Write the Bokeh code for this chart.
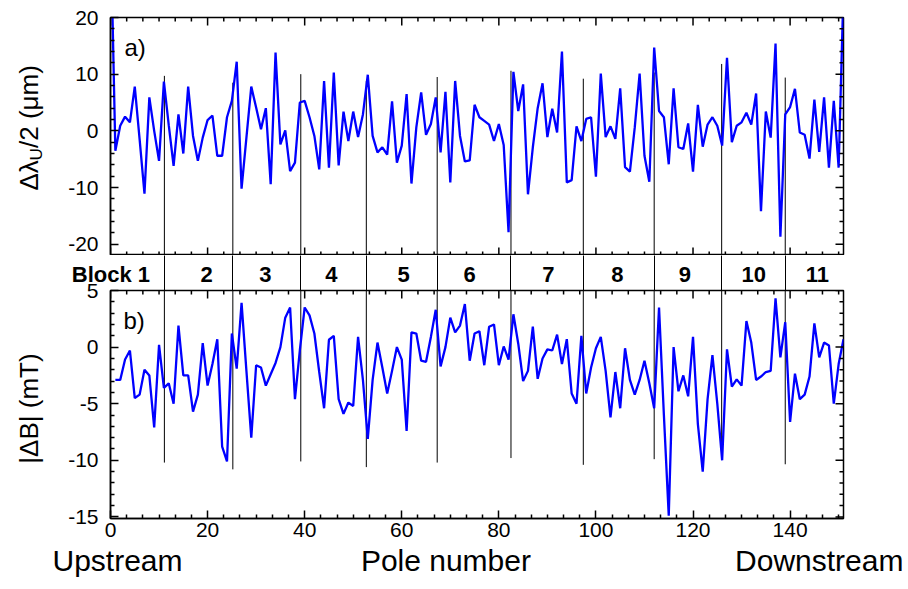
import math
from bokeh.plotting import figure
from bokeh.layouts import column, row
from bokeh.models import Range1d, LinearAxis, FixedTicker, Label
from bokeh.embed import file_html
from bokeh.resources import INLINE

# ---------------- data ----------------
pole_top = list(range(0, 152))
dlam = [37, -3.5, 0.9, 2.5, 1.5, 7.8, -1.5, -11.1, 5.9, 0.0,
        -5.3, 8.7, 1.0, -6.2, 2.9, -4.0, 7.8, -0.9, -5.3, -1.2,
        1.9, 2.7, -4.4, -4.4, 2.4, 5.3, 12.2, -10.2, -1.2, 7.8,
        4.1, 0.3, 4.0, -9.4, 13.8, -2.4, 0.1, -7.1, -5.6, 5.0,
        5.3, 2.4, -0.9, -6.8, 8.8, -6.5, 10.3, -6.1, 3.4, -1.8,
        3.4, -1.1, 2.9, 9.9, -0.9, -3.8, -2.9, -4.2, 5.2, -5.6,
        -2.6, 6.5, -9.3, 0.6, 6.8, -0.7, 1.2, 5.9, -3.8, 6.9,
        -9.1, 8.8, -0.9, -5.4, -5.2, 4.6, 2.4, 1.75, 1.1, -1.8,
        1.2, -2.5, -17.9, 10.4, 3.5, 8.2, -11.2, -2.9, 4.0, 8.4,
        -1.1, 3.9, -0.3, 14.0, -9.1, -8.7, 0.8, -1.8, 2.1, 2.4,
        -8.1, 10.1, -1.1, 0.8, -1.4, 7.5, -6.4, -7.2, 0.6, 10.1,
        -4.4, -9.0, 14.7, 3.5, 2.4, -5.9, 7.5, -2.9, -3.2, 1.3,
        -7.2, 4.6, -2.8, 1.1, 2.4, 0.9, -2.6, 12.9, -2.0, 0.9,
        1.5, 3.2, 1.1, 6.6, -14.2, 3.4, -1.2, 15.4, -18.7, 2.9,
        4.2, 7.4, -0.3, -0.7, -4.9, 5.5, -3.7, 5.9, -6.5, 5.3,
        -6.5, 25]

pole_bot = list(range(1, 152))
dB = [-2.9, -2.9, -1.1, -0.3, -4.5, -4.2, -2.0, -2.5, -7.1, 0.2,
      -3.6, -3.2, -5.0, 1.9, -2.5, -2.5, -5.7, -4.2, 0.35, -3.4,
      -1.5, 0.7, -8.8, -10.1, 1.2, -1.9, 3.9, -2.1, -8.0, -1.6,
      -1.8, -3.4, -2.4, -1.4, 0.0, 2.6, 3.5, -4.6, -0.3, 3.5,
      2.8, 1.2, -2.2, -5.4, 0.65, 1.0, -4.6, -5.9, -4.9, -5.2,
      0.9, -2.9, -8.1, -2.9, 0.4, -1.8, -4.1, -2.1, 0.0, -1.1,
      -7.4, 1.3, 1.2, -1.2, -1.3, 0.9, 3.3, -1.7, 0.0, 2.6,
      1.3, 1.9, 3.8, -1.2, 1.2, 1.4, -1.6, 1.8, 2.0, -1.6,
      0.06, -1.1, 2.9, 0.3, -3.0, -2.1, 1.8, -2.8, -1.0, -0.2,
      -0.3, 1.1, -1.5, 0.7, -4.1, -5.0, 1.0, -4.1, -1.8, -0.1,
      0.9, -2.1, -6.2, -2.2, -5.4, -0.1, -2.9, -4.2, -2.9, -1.2,
      -3.2, -5.4, 3.5, -6.0, -14.9, 0.0, -3.9, -2.5, -4.35, 0.9,
      -6.8, -11.0, -4.6, -0.7, -5.0, -10.0, -0.2, -3.5, -2.85, -3.4,
      2.3, 0.4, -2.9, -2.6, -2.2, -2.1, 4.3, -0.9, 2.2, -6.6,
      -2.35, -4.6, -4.2, -2.6, 2.1, -0.9, 0.4, 0.15, -5.0, -1.5,
      0.7]

block_edges = [11.1, 25.2, 39.2, 52.7, 67.3, 82.5, 97.4, 112.0, 125.9, 139.0]
edge_top = [9.7, 8.5, 10.0, 8.8, 9.5, 10.6, 9.2, 10.3, 11.8, 9.4]
edge_bot = [-10.2, -10.8, -10.1, -10.6, -10.2, -9.8, -10.4, -9.9, -9.2, -10.35]

block_names = ["Block 1", "2", "3", "4", "5", "6", "7", "8", "9", "10", "11"]
block_label_x = [0.1, 19.8, 31.9, 45.5, 60.4, 74.0, 90.2, 104.4, 118.3, 132.5, 145.6]

end_names = ["Upstream", "Pole number", "Downstream"]
end_name_x = [1.3, 69.1, 146.0]

X_MIN, X_MAX = 0, 151
YA = (-22, 20)
YB = (-15.14, 5)
x_major = [0, 20, 40, 60, 80, 100, 120, 140]
ya_major = [-20, -10, 0, 10, 20]
yb_major = [-15, -10, -5, 0, 5]

# ---------------- layout ----------------
LW = 52               # left strip holding the y titles
W = 856               # width of the plot column
ML, MR = 58, 65       # frame: 110 .. 843 on the page
FONT = "Liberation Sans"
BLUE = "#0000ff"
INK = "black"
STRIP = 35            # band between the panels with the block names
H_A, H_B = 255, STRIP + 228 + 70
H_ALL = H_A + H_B
MAJ, MIN_ = 8, 4

xr = Range1d(X_MIN, X_MAX)


def minor_between(majors, n):
    out = []
    for a, b in zip(majors[:-1], majors[1:]):
        step = (b - a) / n
        out += [a + step * k for k in range(1, n)]
    return out


x_major_ext = x_major + [x_major[-1] + 20]
x_minor = [v for v in minor_between(x_major_ext, 6) if v <= X_MAX]


def base_fig(width, height, x_range, yr, left, right, top, bottom):
    p = figure(width=width, height=height, x_range=x_range, y_range=Range1d(*yr),
               x_axis_location=None, y_axis_location=None,
               min_border_left=left, min_border_right=right,
               min_border_top=top, min_border_bottom=bottom,
               output_backend="svg", toolbar_location=None)
    p.background_fill_color = "white"
    p.border_fill_color = "white"
    p.outline_line_color = None
    p.grid.visible = False
    return p


def label_axis(ax, standoff, ticks):
    ax.axis_line_width = 1.5
    ax.axis_line_color = INK
    ax.major_tick_line_color = INK
    ax.minor_tick_line_color = INK
    ax.major_tick_line_width = 1.5
    ax.minor_tick_line_width = 1.5
    ax.major_tick_in = MAJ
    ax.major_tick_out = 0
    ax.minor_tick_in = MIN_
    ax.minor_tick_out = 0
    ax.major_label_text_font = FONT
    ax.major_label_text_font_size = "21px"
    ax.major_label_text_color = INK
    ax.major_label_standoff = standoff
    ax.major_label_overrides = {v: str(v) for v in ticks}


def boxed(p, yr, y_major, y_minor_n, x_labels):
    p.outline_line_color = INK
    p.outline_line_width = 1.5
    y_minor = minor_between(y_major, y_minor_n)
    left = LinearAxis(ticker=FixedTicker(ticks=y_major, minor_ticks=y_minor))
    label_axis(left, 12, y_major)
    p.add_layout(left, "left")
    # tick marks on the unlabelled sides (half of each dash lies inside the frame)
    p.scatter([X_MAX] * len(y_major), y_major, marker="dash", size=2 * MAJ,
              line_color=INK, line_width=1.5)
    p.scatter([X_MAX] * len(y_minor), y_minor, marker="dash", size=2 * MIN_,
              line_color=INK, line_width=1.5)
    edges = [yr[1]] if x_labels else [yr[0], yr[1]]
    for ey in edges:
        p.scatter(x_major, [ey] * len(x_major), marker="dash", angle=math.pi / 2,
                  size=2 * MAJ, line_color=INK, line_width=1.5)
        p.scatter(x_minor, [ey] * len(x_minor), marker="dash", angle=math.pi / 2,
                  size=2 * MIN_, line_color=INK, line_width=1.5)
    if x_labels:
        bot = LinearAxis(ticker=FixedTicker(ticks=x_major, minor_ticks=x_minor))
        label_axis(bot, 4, x_major)
        p.add_layout(bot, "below")


def text_label(**kw):
    return Label(x_units="screen", y_units="screen", text_font=FONT,
                 text_color=INK, **kw)


# ---- panel a ----
pa = base_fig(W, H_A, xr, YA, ML, MR, 17, 0)
pa.segment(x0=block_edges, y0=edge_top, x1=block_edges, y1=[YA[0]] * len(block_edges),
           line_color=INK, line_width=1)
pa.line(pole_top, dlam, line_color=BLUE, line_width=2.3)
boxed(pa, YA, ya_major, 5, False)
pa.add_layout(text_label(x=14, y=208, text="a)", text_font_size="24px",
                         text_baseline="middle", text_align="left"))

# ---- panel b (its top border is the band with the block names) ----
pb = base_fig(W, H_B, xr, YB, ML, MR, STRIP, 70)
pb.segment(x0=block_edges, y0=[YB[1]] * len(block_edges), x1=block_edges, y1=edge_bot,
           line_color=INK, line_width=1)
pb.line(pole_bot, dB, line_color=BLUE, line_width=2.3)
boxed(pb, YB, yb_major, 5, True)
pb.add_layout(text_label(x=13, y=198, text="b)", text_font_size="24px",
                         text_baseline="middle", text_align="left"))

# block names as labels of an axis above panel b; its minor ticks are the
# block separators crossing the band (labels pulled back inside the band)
blocks = LinearAxis(ticker=FixedTicker(ticks=block_label_x, minor_ticks=block_edges),
                    major_label_overrides={v: t for v, t in zip(block_label_x, block_names)})
blocks.axis_line_color = None
blocks.major_tick_line_color = None
blocks.major_tick_in = 0
blocks.major_tick_out = 0
blocks.minor_tick_line_color = INK
blocks.minor_tick_line_width = 1
blocks.minor_tick_in = 0
blocks.minor_tick_out = STRIP
blocks.major_label_standoff = 4 - STRIP
blocks.major_label_text_font = FONT
blocks.major_label_text_font_size = "22px"
blocks.major_label_text_font_style = "bold"
blocks.major_label_text_color = INK
pb.add_layout(blocks, "above")

ends = LinearAxis(ticker=FixedTicker(ticks=end_name_x, minor_ticks=[]),
                  major_label_overrides={v: t for v, t in zip(end_name_x, end_names)})
ends.axis_line_color = None
ends.major_tick_line_color = None
ends.minor_tick_line_color = None
ends.major_tick_in = 0
ends.major_tick_out = 0
ends.major_label_standoff = 4
ends.major_label_text_font = FONT
ends.major_label_text_font_size = "30px"
ends.major_label_text_color = INK
pb.add_layout(ends, "below")

# ---- y titles on a narrow strip at the left ----
pt = figure(width=LW, height=H_ALL, x_range=Range1d(0, 1), y_range=Range1d(0, 1),
            x_axis_location=None, y_axis_location=None, min_border=0,
            output_backend="svg", toolbar_location=None)
pt.outline_line_color = None
pt.background_fill_color = "white"
pt.border_fill_color = "white"
pt.grid.visible = False
th = math.pi / 2
TS = 26
pt.add_layout(text_label(x=28, y=H_ALL - 190, text="\u0394\u03bb", angle=th,
                         text_font_size=f"{TS}px", text_align="left", text_baseline="middle"))
pt.add_layout(text_label(x=36, y=H_ALL - 160, text="U", angle=th,
                         text_font_size="17px", text_align="left", text_baseline="middle"))
pt.add_layout(text_label(x=28, y=H_ALL - 147.5, text="/2 (\u03bcm)", angle=th,
                         text_font_size=f"{TS}px", text_align="left", text_baseline="middle"))
pt.add_layout(text_label(x=28, y=H_ALL - 408, text="|\u0394B| (mT)", angle=th,
                         text_font_size=f"{TS}px", text_align="center", text_baseline="middle"))

layout = row(pt, column(pa, pb, spacing=0), spacing=0)
open("out.html", "w").write(file_html(layout, INLINE))
